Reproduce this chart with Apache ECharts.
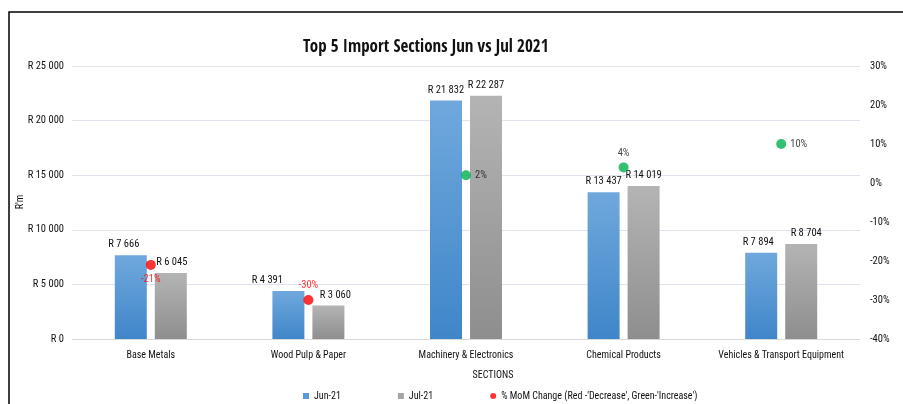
<!DOCTYPE html>
<html>
<head>
<meta charset="utf-8">
<script src="https://cdn.jsdelivr.net/npm/echarts@6/dist/echarts.min.js"></script>
<style>html,body{margin:0;padding:0;background:#fff}#c{width:903px;height:404px}</style>
</head>
<body>
<div id="c"></div>
<script>
const categories = ['Base Metals', 'Wood Pulp & Paper', 'Machinery & Electronics', 'Chemical Products', 'Vehicles & Transport Equipment'];
const jun21 = [7666, 4391, 21832, 13437, 7894];
const jul21 = [6045, 3060, 22287, 14019, 8704];
const momChange = [-21, -30, 2, 4, 10];
const leftTicks = { min: 0, max: 25000, interval: 5000 };
const rightTicks = { min: -40, max: 30, interval: 10 };

// label placement (style only)
const momLabelPos = ['bottom', 'top', 'right', 'top', 'right'];
const junLabelShift = [-7, -21, 0, 0, -3];
const julLabelShift = [1, 7, 0, 0, 5];

const FONT = '"Roboto Condensed", "Open Sans Condensed", sans-serif';
const TFONT = '"Open Sans Condensed", "Roboto Condensed", sans-serif';
const TXT = '#111';
function rand(v) {
  return 'R ' + String(Math.round(v)).replace(/\B(?=(\d{3})+(?!\d))/g, ' ');
}
const chart = echarts.init(document.getElementById('c'));
chart.setOption({
  animation: false,
  textStyle: { fontFamily: FONT },
  title: {
    text: 'Top 5 Import Sections Jun vs Jul 2021',
    left: 298, top: 34,
    textStyle: { fontFamily: TFONT, fontSize: 17, fontWeight: 'bold', color: '#111' }
  },
  graphic: [{
    type: 'rect', shape: { x: 9, y: 12, width: 1000, height: 500 },
    style: { fill: 'none', stroke: '#000', lineWidth: 1.5 }, silent: true, z: 100
  }, {
    type: 'text', x: 20, y: 202, rotation: Math.PI / 2,
    style: { text: "R'm", font: '10px ' + FONT, fill: TXT, align: 'center', verticalAlign: 'middle' },
    silent: true
  }],
  legend: {
    top: 386, left: 298, itemGap: 57, itemWidth: 6, itemHeight: 6,
    textStyle: { fontFamily: FONT, fontSize: 10, color: TXT },
    data: [
      { name: 'Jun-21', icon: 'rect', itemStyle: { color: '#5b9bd5' } },
      { name: 'Jul-21', icon: 'rect', itemStyle: { color: '#a5a5a5' } },
      { name: "% MoM Change (Red -'Decrease', Green-'Increase')", icon: 'circle', itemStyle: { color: '#ff0000' } }
    ]
  },
  grid: { left: 72, right: 43, top: 66, bottom: 65, outerBoundsMode: 'none', containLabel: false },
  xAxis: {
    type: 'category', data: categories,
    name: 'SECTIONS', nameLocation: 'middle', nameGap: 31,
    nameTextStyle: { fontFamily: FONT, fontSize: 10, color: TXT, padding: [0, 0, 0, 54] },
    axisLine: { lineStyle: { color: '#d9d9d9' } },
    axisTick: { show: false },
    axisLabel: { interval: 0, fontFamily: FONT, fontSize: 10, color: TXT, margin: 11 }
  },
  yAxis: [{
    type: 'value', min: leftTicks.min, max: leftTicks.max, interval: leftTicks.interval,
    axisLabel: { formatter: rand, fontFamily: FONT, fontSize: 10.5, color: TXT, margin: 8 },
    splitLine: { lineStyle: { color: '#dfe4ec' } },
    axisLine: { show: false }, axisTick: { show: false }
  }, {
    type: 'value', min: rightTicks.min, max: rightTicks.max, interval: rightTicks.interval,
    axisLabel: { formatter: '{value}%', fontFamily: FONT, fontSize: 10.5, color: TXT, margin: 10 },
    splitLine: { show: false }, axisLine: { show: false }, axisTick: { show: false }
  }],
  series: [{
    name: 'Jun-21', type: 'bar', barWidth: 32, barGap: '25%',
    data: jun21.map((v, i) => ({ value: v, label: { offset: [junLabelShift[i], 0] } })),
    itemStyle: { color: new echarts.graphic.LinearGradient(0, 0, 0, 1, [
      { offset: 0, color: '#70a8dd' }, { offset: 1, color: '#3f86c9' }]) },
    label: { show: true, position: 'top', formatter: p => rand(p.value), fontFamily: FONT, fontSize: 10.5, color: TXT }
  }, {
    name: 'Jul-21', type: 'bar', barWidth: 32,
    data: jul21.map((v, i) => ({ value: v, label: { offset: [julLabelShift[i], 0] } })),
    itemStyle: { color: new echarts.graphic.LinearGradient(0, 0, 0, 1, [
      { offset: 0, color: '#b4b4b4' }, { offset: 1, color: '#8e8e8e' }]) },
    label: { show: true, position: 'top', formatter: p => rand(p.value), fontFamily: FONT, fontSize: 10.5, color: TXT }
  }, {
    name: "% MoM Change (Red -'Decrease', Green-'Increase')", type: 'scatter', yAxisIndex: 1,
    symbolSize: 10, z: 10,
    itemStyle: { color: '#ff0000' },
    data: momChange.map((v, i) => ({
      value: v,
      itemStyle: { color: v < 0 ? '#ff0000' : '#00b050' },
      label: { show: true, position: momLabelPos[i], formatter: v + '%', color: v < 0 ? '#ff0000' : TXT, fontFamily: FONT, fontSize: 10.5, distance: 4 }
    }))
  }]
});
</script>
</body>
</html>
